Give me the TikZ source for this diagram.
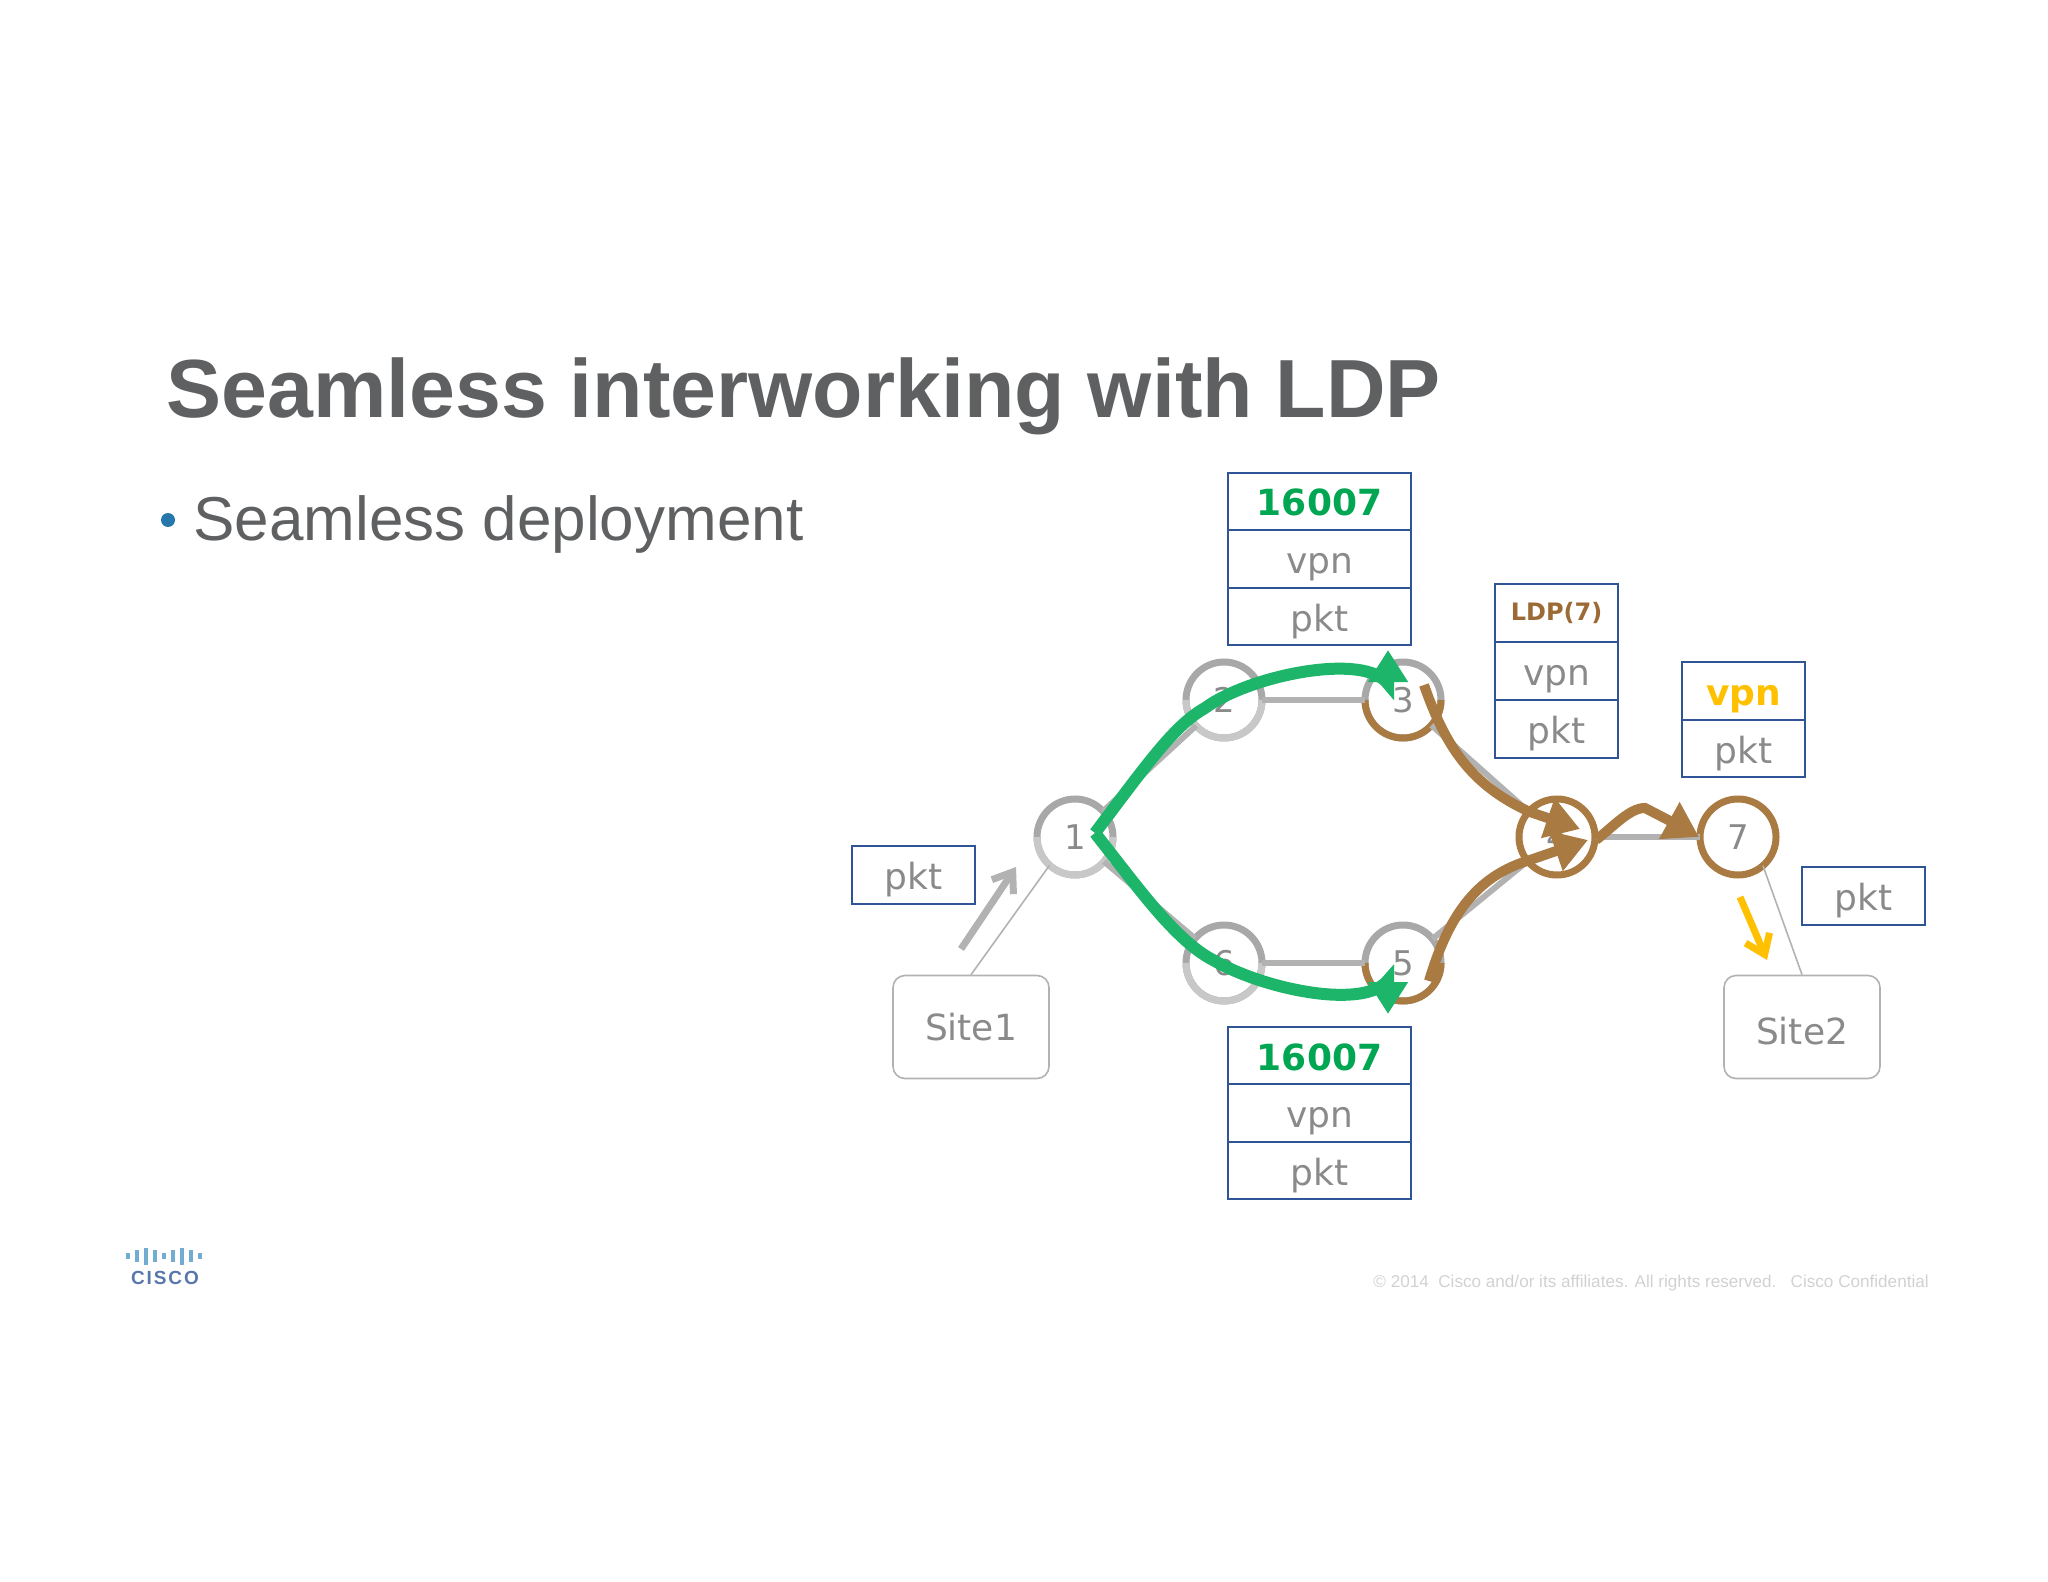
\documentclass[tikz,border=0pt]{standalone}
\usepackage{fontspec}
\setmainfont{DejaVu Sans}
\newfontfamily\arialfont{Liberation Sans}
\usetikzlibrary{arrows.meta}
\definecolor{txtgray}{HTML}{8A8A8A}
\definecolor{ttlgray}{HTML}{5F6062}
\definecolor{lnkgray}{HTML}{B2B2B2}
\definecolor{rtrtop}{HTML}{A8A8A8}
\definecolor{rtrlow}{HTML}{C8C8C8}
\definecolor{boxblue}{HTML}{2F5597}
\definecolor{flowgreen}{HTML}{1DB56A}
\definecolor{labgreen}{HTML}{00A651}
\definecolor{flowbrown}{HTML}{A97A42}
\definecolor{labbrown}{HTML}{9C6A35}
\definecolor{flowyellow}{HTML}{FFC000}
\tikzset{
	rtr/.style={circle,draw=rtrtop,fill=white,line width=3.5pt,minimum size=38pt,inner sep=0pt,outer sep=0pt,text=txtgray,font=\fontsize{17}{17}\selectfont},
	rtrb/.style={rtr,draw=flowbrown},
	cell/.style={draw=boxblue,line width=.8pt,inner sep=0pt,outer sep=0pt,text=txtgray,text height=17pt,text depth=2.5pt,font=\fontsize{18}{18}\selectfont},
	wcell/.style={cell,minimum width=91.5pt,minimum height=28.75pt},
	ncell/.style={cell,minimum width=61.5pt,minimum height=28.75pt},
	site/.style={draw=lnkgray,rounded corners=6pt,line width=.8pt,minimum width=78pt,minimum height=51.5pt,text=txtgray,font=\fontsize{18}{18}\selectfont},
	lnk/.style={draw=lnkgray,line width=3pt},
	thinlnk/.style={draw=lnkgray,line width=.8pt},
	greenflow/.style={draw=flowgreen,line width=6pt,-{Triangle[length=16pt,width=19pt]}},
	brownflow/.style={draw=flowbrown,line width=5pt,-{Triangle[length=17pt,width=20pt]}},
}
\begin{document}
\begin{tikzpicture}[x=.5pt,y=-.5pt]
	\useasboundingbox(0,0)rectangle(2048,1582);
	\node[anchor=base west,text=ttlgray,inner sep=0pt,font=\arialfont\bfseries\fontsize{41.25}{41.25}\selectfont](title) at(166,418){Seamless interworking with LDP};
	\node[anchor=base west,text=ttlgray,inner sep=0pt,font=\arialfont\fontsize{31}{31}\selectfont](bullet) at(193,541){Seamless deployment};
	\fill[boxblue!80!cyan](168,520)circle(7);
	% routers
	\node[rtr](n1) at(1075,837){1};
	\node[rtr](n2) at(1224,700){2};
	\node[rtr](n3) at(1403,700){3};
	\node[rtrb](n4) at(1557,837){4};
	\node[rtr](n5) at(1403,963){5};
	\node[rtr](n6) at(1224,963){6};
	\node[rtrb](n7) at(1738,837){7};
	\foreach \a in {1,2,6}
		\draw[rtrlow,line width=3.5pt](n\a.180)arc[start angle=180,end angle=360,radius=19pt];
	\foreach \a in {3,5}
		\draw[flowbrown,line width=3.5pt](n\a.180)arc[start angle=180,end angle=360,radius=19pt];
	\foreach \a/\b in {1/2,2/3,3/4,1/6,6/5,5/4,4/7}
		\draw[lnk](n\a)--(n\b);
	% sites
	\node[site](site1) at(971,1027){Site1};
	\node[site,text height=17.4pt](site2) at(1802,1027){Site2};
	\draw[thinlnk](site1.north)--(n1.228);
	\draw[thinlnk](site2.north)--(n7.311);
	% packets
	\node[wcell,text=labgreen,font=\bfseries\fontsize{18}{18}\selectfont](ta) at(1319.5,501.5){16007};
	\node[wcell](tb) at(1319.5,559){vpn};
	\node[wcell](tc) at(1319.5,616.5){pkt};
	\node[wcell,text=labgreen,font=\bfseries\fontsize{18}{18}\selectfont](ba) at(1319.5,1055.5){16007};
	\node[wcell](bb) at(1319.5,1113){vpn};
	\node[wcell](bc) at(1319.5,1170.5){pkt};
	\node[ncell,text=labbrown,text height=10pt,font=\bfseries\fontsize{12}{12}\selectfont](la) at(1556.5,613){LDP(7)};
	\node[ncell](lb) at(1556.5,671){vpn};
	\node[ncell](lc) at(1556.5,729){pkt};
	\node[ncell,text=flowyellow,font=\bfseries\fontsize{18}{18}\selectfont](ya) at(1743.5,691){vpn};
	\node[ncell](yb) at(1743.5,748.5){pkt};
	\node[ncell](pl) at(913.5,875){pkt};
	\node[ncell](pr) at(1863.5,896){pkt};
	% flows
	\coordinate(v1) at(1095,833);
	\draw[greenflow](v1)..controls(1150,760)and(1175,725)..(1205,708)..controls(1250,675)and(1365,652)..(1388,684)--(1388,650);
	\draw[greenflow](v1)..controls(1140,890)and(1175,940)..(1213,960)..controls(1265,990)and(1365,1010)..(1388,980)--(1388,1014);
	\draw[brownflow](1424,685)..controls(1445,745)and(1470,785)..(1530,812)--(1580,829);
	\draw[brownflow](1429,981)..controls(1450,910)and(1480,875)..(1530,860)--(1588,840);
	\draw[brownflow](1596,840)..controls(1615,825)and(1630,808)..(1645,808)--(1672,822)--(1699,837);
	\draw[lnkgray,line width=3.5pt,-{Straight Barb[length=9pt,width=13pt]}](961,949)--(1016,867);
	\draw[flowyellow,line width=3.5pt,-{Straight Barb[length=9pt,width=13pt]}](1740,897)--(1767,960);
	% logo
	\foreach \x/\h in {128/6,137/12,146/17,155/12,164/6,173/12,182/17,191/12,200/6}
		\draw[cyan!50!boxblue!70,line width=2pt](\x,1256-\h/2)--(\x,1256+\h/2);
	\node[text=boxblue!80,inner sep=0pt,font=\arialfont\bfseries\fontsize{9.5}{9.5}\selectfont\addfontfeature{LetterSpace=10}](logo) at(165,1278){CISCO};
	\node[anchor=west,text=black!18,inner sep=0pt,font=\arialfont\fontsize{8.56}{8.56}\selectfont](foot) at(1373,1283){\textcopyright{} 2014\ \ Cisco and/or its affiliates. All rights reserved.\ \ \ Cisco Confidential};
\end{tikzpicture}
\end{document}
